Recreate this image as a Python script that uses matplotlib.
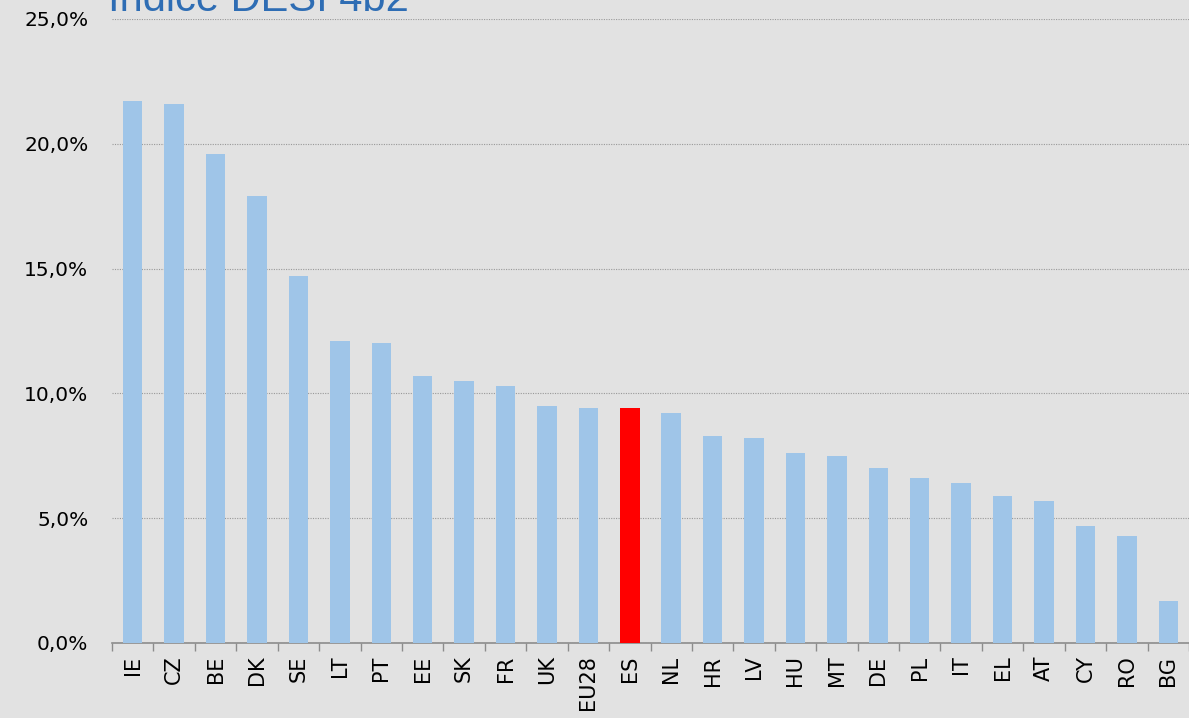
import matplotlib
matplotlib.use("Agg")
import matplotlib.pyplot as plt
import numpy as np
from matplotlib.ticker import FuncFormatter, FixedLocator

countries = ['IE', 'CZ', 'BE', 'DK', 'SE', 'LT', 'PT', 'EE', 'SK', 'FR', 'UK', 'EU28', 'ES',
             'NL', 'HR', 'LV', 'HU', 'MT', 'DE', 'PL', 'IT', 'EL', 'AT', 'CY', 'RO', 'BG']
values = [21.7, 21.6, 19.6, 17.9, 14.7, 12.1, 12.0, 10.7, 10.5, 10.3, 9.5, 9.4, 9.4,
          9.2, 8.3, 8.2, 7.6, 7.5, 7.0, 6.6, 6.4, 5.9, 5.7, 4.7, 4.3, 1.7]
highlight = 'ES'
yticks = [0, 5, 10, 15, 20, 25]

bg = '#e2e2e2'
fig = plt.figure(figsize=(11.89, 7.18), dpi=100, facecolor=bg)
ax = fig.add_axes([112 / 1189, 1 - 643 / 718, 1 - 112 / 1189, (643 - 19) / 718])
ax.set_facecolor(bg)

x = np.arange(len(countries))
colors = ['#ff0000' if c == highlight else '#9fc5e8' for c in countries]
ax.bar(x, values, width=0.47, color=colors, zorder=3)

ax.set_xlim(-0.5, len(countries) - 0.5)
ax.set_ylim(0, 25)
ax.set_yticks(yticks)
ax.yaxis.set_major_formatter(FuncFormatter(lambda v, p: f"{v:.1f}%".replace('.', ',')))
ax.grid(axis='y', linestyle=(0, (1, 1.2)), color='#999999', linewidth=0.8, zorder=0)
ax.tick_params(axis='y', length=0, labelsize=14.5, pad=17, labelcolor='black')

ax.set_xticks(x)
ax.set_xticklabels(countries, rotation=90, fontsize=15)
ax.tick_params(axis='x', which='major', length=0, pad=9)
ax.xaxis.set_minor_locator(FixedLocator(np.arange(-0.5, len(countries), 1)))
ax.tick_params(axis='x', which='minor', length=6, color='#8c8c8c', width=1)

for s in ['top', 'right', 'left']:
    ax.spines[s].set_visible(False)
ax.spines['bottom'].set_color('#8c8c8c')
ax.spines['bottom'].set_linewidth(1.2)

fig.text(108 / 1189, 1 - 11 / 718, 'Índice DESI 4b2', color='#2e6db4', fontsize=30,
         family='Liberation Sans', va='baseline', ha='left')

fig.savefig('out.png', dpi=100, facecolor=bg)
